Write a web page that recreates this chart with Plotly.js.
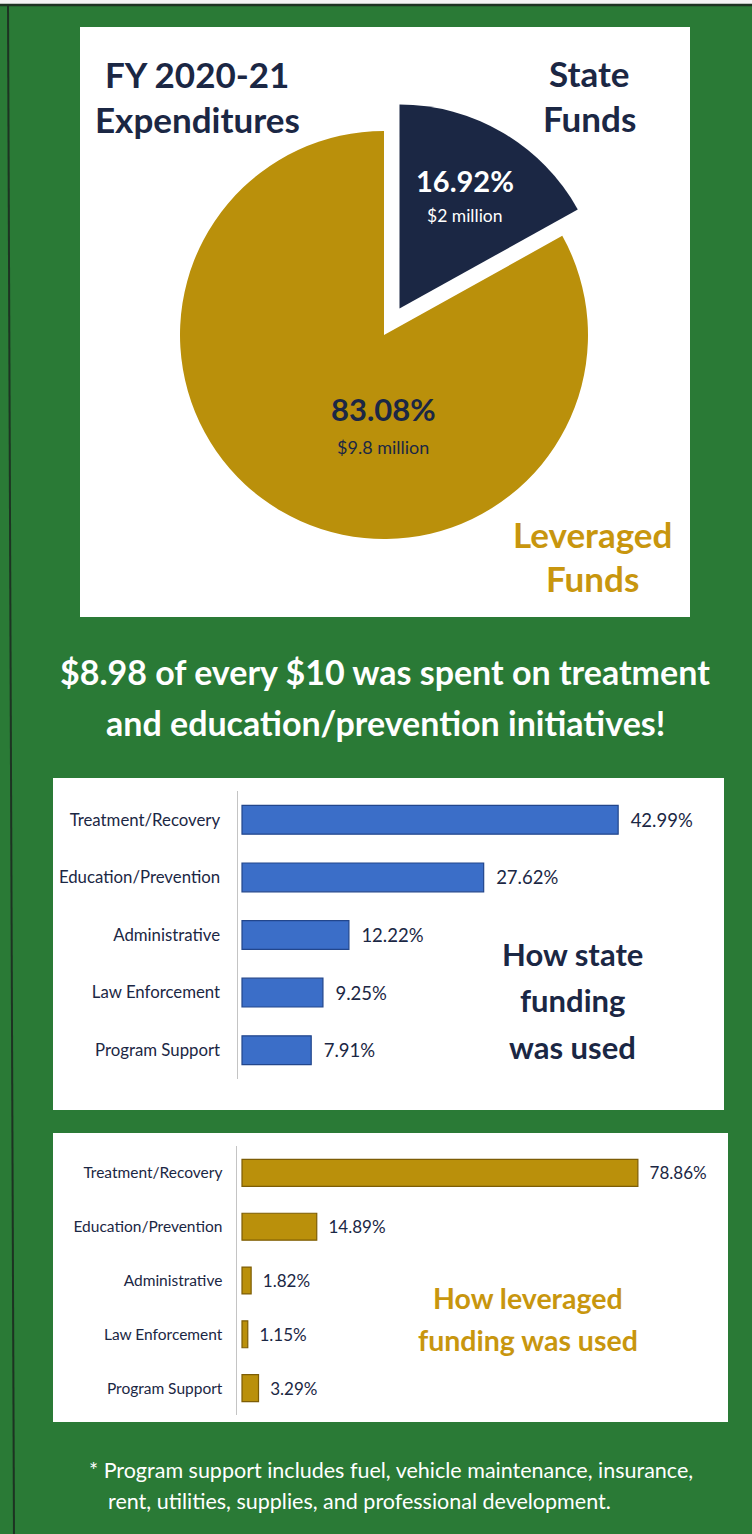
<!DOCTYPE html>
<html><head><meta charset="utf-8">
<script src="https://cdn.plot.ly/plotly-3.0.1.min.js"></script>
<style>html,body{margin:0;padding:0;background:#2a7a36;}</style>
</head><body><div id="chart" style="width:752px;height:1534px;"></div>
<script>
// ---- data ----
const pieLabels = ['State Funds', 'Leveraged Funds'];
const pieValues = [16.92, 83.08];
const pieAmounts = ['$2 million', '$9.8 million'];
const categories = ['Treatment/Recovery', 'Education/Prevention', 'Administrative', 'Law Enforcement', 'Program Support'];
const stateShare = [42.99, 27.62, 12.22, 9.25, 7.91];
const leveragedShare = [78.86, 14.89, 1.82, 1.15, 3.29];
const headline = ['$8.98 of every $10 was spent on treatment', 'and education/prevention initiatives!'];
const stateTitle = ['How state', 'funding', 'was used'];
const levTitle = ['How leveraged', 'funding was used'];
const footnote = ['* Program support includes fuel, vehicle maintenance, insurance,', 'rent, utilities, supplies, and professional development.'];

// ---- styling ----
const W = 752, H = 1534;
const FONT = 'Lato, "Open Sans", sans-serif';
const GREEN = '#2a7a36', NAVY = '#1b2744', GOLD = '#ba900b', GOLDTXT = '#c8960e';
const BLUE = '#3b6ec8', BLUE_EDGE = '#22468c', GOLD_EDGE = '#7d5d05';
const px = x => x / W, py = y => 1 - y / H;

function ann(text, x, y, size, color, bold, xanchor) {
  return {text: bold ? '<b>' + text + '</b>' : text, x: px(x), y: py(y), xref: 'paper', yref: 'paper',
    showarrow: false, xanchor: xanchor || 'center', yanchor: 'middle',
    font: {family: FONT, size: size, color: color}};
}

// pie geometry: center (384,335), radius ~204, pull 0.15
const pull = [0.15, 0];
const half = 204 * 1.15;
const pieTrace = {
  type: 'pie', values: pieValues, labels: pieLabels, sort: false, direction: 'clockwise', rotation: 0,
  pull: pull, marker: {colors: [NAVY, GOLD], line: {width: 0}}, textinfo: 'none', hoverinfo: 'label+percent',
  showlegend: false,
  domain: {x: [px(384 - half), px(384 + half)], y: [py(335 + half), py(335 - half)]}
};

const barState = {
  type: 'bar', orientation: 'h', y: categories, x: stateShare, xaxis: 'x', yaxis: 'y',
  width: 0.5, marker: {color: BLUE, line: {color: BLUE_EDGE, width: 1.2}},
  texttemplate: '\u00a0\u00a0%{x:.2f}%', textposition: 'outside', cliponaxis: false, constraintext: 'none',
  textfont: {family: FONT, size: 18.5, color: NAVY}, hoverinfo: 'y+x', showlegend: false
};
const barLev = {
  type: 'bar', orientation: 'h', y: categories, x: leveragedShare, xaxis: 'x2', yaxis: 'y2',
  width: 0.5, marker: {color: GOLD, line: {color: GOLD_EDGE, width: 1.2}},
  texttemplate: '\u00a0\u00a0%{x:.2f}%', textposition: 'outside', cliponaxis: false, constraintext: 'none',
  textfont: {family: FONT, size: 17, color: NAVY}, hoverinfo: 'y+x', showlegend: false
};

const s1 = 8.75, s2 = 5.02; // px per percentage point
const hiddenX = {showgrid: false, zeroline: false, showticklabels: false, ticks: '', showline: false, fixedrange: true};

const annotations = [
  ann('FY 2020-21', 197, 74, 35, NAVY, true),
  ann('Expenditures', 197, 119, 35, NAVY, true),
  ann('State', 589, 73, 35, NAVY, true),
  ann('Funds', 589, 118, 35, NAVY, true),
  ann(pieValues[0].toFixed(2) + '%', 465, 181, 29, '#ffffff', true),
  ann(pieAmounts[0], 465, 216, 17.5, '#ffffff', false),
  ann(pieValues[1].toFixed(2) + '%', 383, 409, 31, NAVY, true),
  ann(pieAmounts[1], 383, 447, 18, NAVY, false),
  ann('Leveraged', 592, 534, 35, GOLDTXT, true),
  ann('Funds', 592, 578, 35, GOLDTXT, true),
  ann(headline[0], 385, 671, 34, '#ffffff', true),
  ann(headline[1], 385, 722, 34, '#ffffff', true),
  ann(stateTitle[0], 572, 954, 31, NAVY, true),
  ann(stateTitle[1], 572, 1000, 31, NAVY, true),
  ann(stateTitle[2], 572, 1047, 31, NAVY, true),
  ann(levTitle[0], 528, 1298, 28.5, GOLDTXT, true),
  ann(levTitle[1], 528, 1340, 28.5, GOLDTXT, true),
  ann(footnote[0], 87, 1470, 21.5, '#ffffff', false, 'left'),
  ann(footnote[1], 106, 1501, 21.5, '#ffffff', false, 'left')
];

const rect = (x0, y0, x1, y1, fill) => ({type: 'rect', xref: 'paper', yref: 'paper', layer: 'below',
  x0: px(x0), x1: px(x1), y0: py(y1), y1: py(y0), fillcolor: fill, line: {width: 0}});

const shapes = [
  rect(-2, -2, 760, 4, '#f4f4f4'),
  {type: 'line', xref: 'paper', yref: 'paper', layer: 'below', x0: px(0), x1: px(760), y0: py(5), y1: py(5), line: {color: '#1d3322', width: 2.5}},
  {type: 'line', xref: 'paper', yref: 'paper', layer: 'below', x0: px(8), x1: px(14), y0: py(4), y1: py(1540), line: {color: '#1d3322', width: 2}},
  rect(80, 27, 690, 617, '#ffffff'),
  rect(53, 778, 724, 1110, '#ffffff'),
  rect(53, 1133, 728, 1422, '#ffffff')
];

const layout = {
  width: W, height: H, margin: {l: 0, r: 0, t: 0, b: 0},
  paper_bgcolor: GREEN, plot_bgcolor: 'rgba(0,0,0,0)',
  font: {family: FONT},
  xaxis: Object.assign({domain: [px(238), px(724)], range: [-4 / s1, (724 - 242) / s1], anchor: 'y'}, hiddenX),
  yaxis: {domain: [py(1079), py(791)], autorange: 'reversed', anchor: 'x', showline: true, linecolor: '#c4c4c4', linewidth: 1.5,
    ticks: '', ticklabelstandoff: 13, showgrid: false, zeroline: false, fixedrange: true,
    tickfont: {family: FONT, size: 16.8, color: NAVY}},
  xaxis2: Object.assign({domain: [px(237), px(727)], range: [-5 / s2, (727 - 242) / s2], anchor: 'y2'}, hiddenX),
  yaxis2: {domain: [py(1415), py(1146)], autorange: 'reversed', anchor: 'x2', showline: true, linecolor: '#c4c4c4', linewidth: 1.5,
    ticks: '', ticklabelstandoff: 10, showgrid: false, zeroline: false, fixedrange: true,
    tickfont: {family: FONT, size: 15.5, color: NAVY}},
  annotations: annotations,
  shapes: shapes,
  bargap: 0.5
};

Plotly.newPlot('chart', [pieTrace, barState, barLev], layout, {displayModeBar: false, staticPlot: true});
</script></body></html>
